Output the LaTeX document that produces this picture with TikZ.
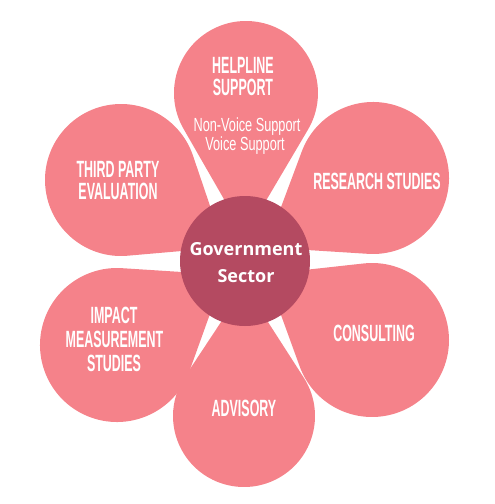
\documentclass[tikz,border=0pt]{standalone}
\usepackage{fontspec}
\usetikzlibrary{calc}
\setmainfont{Liberation Sans}
\newfontfamily\headfont[FakeStretch=0.53]{Liberation Sans}
\newfontfamily\subfont[FakeStretch=0.67]{Liberation Sans}
\newfontfamily\hubfont{Open Sans}
\definecolor{petalpink}{RGB}{245,130,138}
\definecolor{hubrose}{RGB}{180,74,97}

% teardrop: round end centred at (#1,#2) with radius #3, point aimed at the hub
\newcommand\drawpetal[3]{%
  \pgfmathsetmacro\pdx{#1-245}%
  \pgfmathsetmacro\pdy{#2-261}%
  \pgfmathsetmacro\pdist{veclen(\pdx,\pdy)}%
  \pgfmathsetmacro\pang{atan2(\pdy,\pdx)}%
  \pgfmathsetmacro\plen{\pdist-25}%
  \pgfmathsetmacro\palpha{asin(#3/\plen)}%
  \fill[petal] ($(#1,#2)+(\pang+180:\plen)$)
    -- ($(#1,#2)+(\pang+270-\palpha:#3)$)
    arc[start angle=\pang+270-\palpha, end angle=\pang+450+\palpha, radius=#3]
    -- cycle;%
}

\tikzset{
  petal/.style={fill=petalpink},
  head/.style={text=white, anchor=base, inner sep=0pt,
    font=\headfont\bfseries\fontsize{23.5}{25}\selectfont},
  sub/.style={text=white, anchor=base, inner sep=0pt,
    font=\subfont\fontsize{19}{21}\selectfont},
  hubtext/.style={text=white, anchor=base, inner sep=0pt,
    font=\hubfont\bfseries\fontsize{18}{20}\selectfont},
}

\begin{document}
\begin{tikzpicture}[x=1pt,y=-1pt]
\useasboundingbox (0,0) rectangle (495,504);

% petals
\drawpetal{246}{93}{72}
\drawpetal{373}{178}{76}
\drawpetal{372}{340}{77}
\drawpetal{244}{416}{71}
\drawpetal{117}{345}{77}
\drawpetal{121}{180}{76}

% hub
\node[circle, fill=hubrose, minimum size=130pt, inner sep=0pt] (hub) at (245,261) {};
\node[hubtext] (hubA) at (246,255) {Government};
\node[hubtext] (hubB) at (246,282) {Sector};

% petal labels
\node[head] (helpA) at (243,73.5) {HELPLINE};
\node[head] (helpB) at (243,95) {SUPPORT};
\node[sub]  (helpC) at (247,131.5) {Non-Voice Support};
\node[sub]  (helpD) at (245,150.5) {Voice Support};

\node[head] (research) at (377,189) {RESEARCH STUDIES};
\node[head] (consult) at (374,341) {CONSULTING};
\node[head] (advisory) at (244,416) {ADVISORY};

\node[head] (impactA) at (114,323) {IMPACT};
\node[head] (impactB) at (114.5,347) {MEASUREMENT};
\node[head] (impactC) at (114,371) {STUDIES};

\node[head] (thirdA) at (118,177) {THIRD PARTY};
\node[head] (thirdB) at (118,199) {EVALUATION};
\end{tikzpicture}
\end{document}
